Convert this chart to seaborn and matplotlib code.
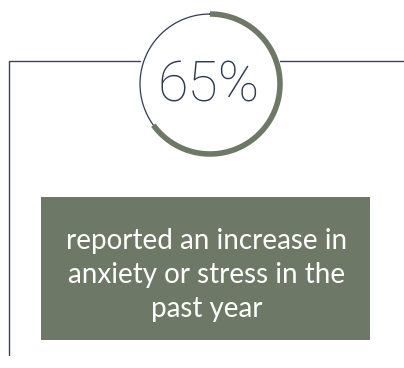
"""Single stat card: 65% reported an increase in anxiety or stress."""

import numpy as np
import matplotlib.pyplot as plt
import seaborn as sns
from matplotlib.patches import Rectangle

stat_value = [65]
stat_label = ["65%"]
caption_lines = ["reported an increase in", "anxiety or stress in the", "past year"]

GREEN = "#6e7866"
NAVY = "#2f3b52"
FRAME = "#3d4554"

sns.set_theme(style="white")
plt.rcParams["font.family"] = ["Lato", "DejaVu Sans"]

fig = plt.figure(figsize=(4.04, 3.68), dpi=100)
ax = fig.add_axes([0, 0, 1, 1])
ax.set_xlim(0, 404)
ax.set_ylim(368, 0)
ax.axis("off")

cx, cy, r = 210, 84, 70

# frame lines, broken by the circle
ax.plot([9, cx - r], [61, 61], color=FRAME, lw=1)
ax.plot([cx + r, 404], [61, 61], color=FRAME, lw=1)
ax.plot([9, 9], [61, 355], color=FRAME, lw=1)

# ring: thin background, thick progress arc clockwise from the top
frac = stat_value[0] / 100
t_all = np.linspace(0, 2 * np.pi, 300)
ax.plot(cx + r * np.sin(t_all), cy - r * np.cos(t_all), color=NAVY, lw=0.9)
t_prog = np.linspace(0, 2 * np.pi * frac, 300)
ax.plot(cx + r * np.sin(t_prog), cy - r * np.cos(t_prog), color=GREEN, lw=4,
        solid_capstyle="butt")

ax.text(cx - 1, cy + 2, stat_label[0], ha="center", va="center", fontsize=40,
        color=NAVY, family=["Roboto", "DejaVu Sans"], fontweight="light")

# caption box
ax.add_patch(Rectangle((41, 197), 329, 143, facecolor=GREEN, edgecolor="none"))
for i, line in enumerate(caption_lines):
    ax.text(207, 241 + i * 34, line, ha="center", va="center", fontsize=20,
            color="white")

fig.savefig("out.png", dpi=100)
